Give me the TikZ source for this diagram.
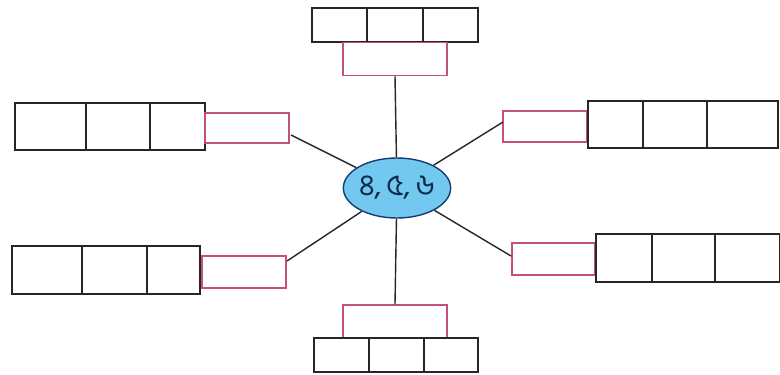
\documentclass[tikz,border=0pt]{standalone}
\usepackage{fontspec}
\newfontfamily\bengfont[Script=Bengali]{Hind Siliguri}
\usetikzlibrary{shapes.geometric}
\definecolor{pinkline}{RGB}{196,80,130}
\definecolor{ellfill}{RGB}{115,200,240}
\definecolor{elldraw}{RGB}{20,60,110}
\tikzset{
  cell/.style={draw=black!85,line width=1.6pt,rectangle,inner sep=0pt,fill=white},
  pinkbox/.style={draw=pinkline,line width=1.5pt,rectangle,inner sep=0pt,fill=white},
  spoke/.style={draw=black!85,line width=1.4pt},
  hub/.style={ellipse,draw=elldraw,line width=1.4pt,fill=ellfill,minimum width=104pt,minimum height=60pt,inner sep=0pt,font=\bengfont\fontsize{30}{32}\selectfont,text=elldraw!70!black},
}
\begin{document}
\begin{tikzpicture}[x=1pt,y=-1pt]
\useasboundingbox (0,0) rectangle (780,375);
% center
\node[hub] (c) at (397,188) {৪,\,৫,\,৬};
% top
\node[cell,minimum width=55pt,minimum height=34pt] (t1) at (339.5,25) {};
\node[cell,minimum width=56pt,minimum height=34pt] (t2) at (395,25) {};
\node[cell,minimum width=55pt,minimum height=34pt] (t3) at (450.5,25) {};
\node[pinkbox,minimum width=104pt,minimum height=33pt] (pt) at (395,59) {};
% bottom
\node[pinkbox,minimum width=104pt,minimum height=33pt] (pb) at (395,321.5) {};
\node[cell,minimum width=55pt,minimum height=34pt] (b1) at (341.5,355) {};
\node[cell,minimum width=55pt,minimum height=34pt] (b2) at (396.5,355) {};
\node[cell,minimum width=54pt,minimum height=34pt] (b3) at (451,355) {};
% left upper
\node[cell,minimum width=71pt,minimum height=47pt] (lu1) at (50.5,126.5) {};
\node[cell,minimum width=64pt,minimum height=47pt] (lu2) at (118,126.5) {};
\node[cell,minimum width=55pt,minimum height=47pt] (lu3) at (177.5,126.5) {};
\node[pinkbox,minimum width=84pt,minimum height=30pt] (plu) at (247,128) {};
% right upper
\node[pinkbox,minimum width=84pt,minimum height=31pt] (pru) at (545,126.5) {};
\node[cell,minimum width=55pt,minimum height=47pt] (ru1) at (615.5,124.5) {};
\node[cell,minimum width=64pt,minimum height=47pt] (ru2) at (675,124.5) {};
\node[cell,minimum width=71pt,minimum height=47pt] (ru3) at (742.5,124.5) {};
% left lower
\node[cell,minimum width=70pt,minimum height=48pt] (ll1) at (47,270) {};
\node[cell,minimum width=65pt,minimum height=48pt] (ll2) at (114.5,270) {};
\node[cell,minimum width=53pt,minimum height=48pt] (ll3) at (173.5,270) {};
\node[pinkbox,minimum width=84pt,minimum height=32pt] (pll) at (244,272) {};
% right lower
\node[pinkbox,minimum width=83pt,minimum height=32pt] (prl) at (553.5,259) {};
\node[cell,minimum width=56pt,minimum height=48pt] (rl1) at (624,258) {};
\node[cell,minimum width=63pt,minimum height=48pt] (rl2) at (683.5,258) {};
\node[cell,minimum width=65pt,minimum height=48pt] (rl3) at (747.5,258) {};
% spokes
\coordinate (a1) at (291,135);
\coordinate (a2) at (503,122);
\coordinate (a3) at (287,261);
\coordinate (a4) at (511,256);
\draw[spoke] (pt.south) -- (c);
\draw[spoke] (pb.north) -- (c);
\draw[spoke] (a1) -- (c);
\draw[spoke] (a2) -- (c);
\draw[spoke] (a3) -- (c);
\draw[spoke] (a4) -- (c);
\end{tikzpicture}
\end{document}
